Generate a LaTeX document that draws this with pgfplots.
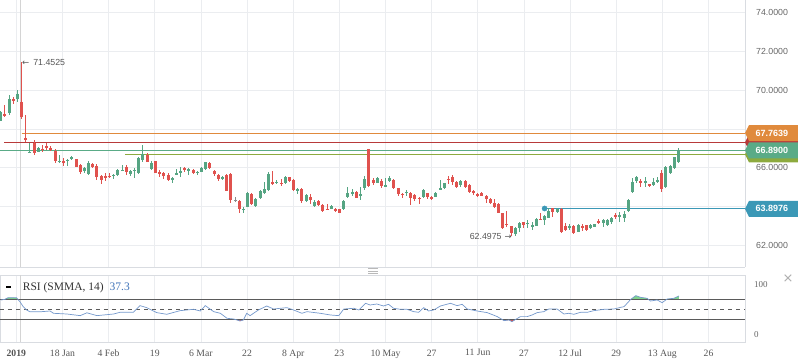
\documentclass[border=0pt]{standalone}
\usepackage{fontspec}
\setmainfont{Liberation Serif}
\newfontfamily\sansf{Liberation Sans}
\newfontfamily\dejavu{DejaVu Sans}
\usepackage{pgfplots}
\pgfplotsset{compat=1.18}
\usepackage{pgfplotstable}

\definecolor{cgreen}{HTML}{56A583}
\definecolor{cred}{HTML}{E0524E}
\definecolor{cgray}{HTML}{8A8A8A}
\definecolor{lorange}{HTML}{E08A3C}
\definecolor{lred}{HTML}{B83A3A}
\definecolor{lgreen}{HTML}{5AAB87}
\definecolor{lolive}{HTML}{8DAA3E}
\definecolor{lblue}{HTML}{3B98B6}
\definecolor{gridc}{HTML}{EBEDF0}
\definecolor{framec}{HTML}{D9DCE1}
\definecolor{crossc}{HTML}{D4D4D4}
\definecolor{rsiline}{HTML}{7599CC}
\definecolor{rsigreen}{HTML}{7FD38D}
\definecolor{rsired}{HTML}{D05050}
\definecolor{tickc}{HTML}{666666}
\definecolor{xlabc}{HTML}{555555}
\definecolor{levc}{HTML}{5A5A5A}
\definecolor{rsitext}{HTML}{3F73B8}

\pgfplotstableread{
i o h l c
0 68.43 68.95 68.40 68.85
1 68.77 69.24 68.64 68.67
2 68.81 69.75 68.72 69.55
3 69.52 69.67 69.29 69.47
4 69.55 70.01 69.41 69.79
5 69.41 71.4525 68.52 68.60
6 67.55 68.72 67.35 67.45
7 66.78 67.29 66.74 66.83
8 67.29 67.43 66.66 66.78
9 66.83 67.05 66.80 67.00
10 66.97 67.17 66.83 66.92
11 67.10 67.29 66.92 67.05
12 67.00 67.14 66.88 66.92
13 66.88 66.97 66.26 66.37
14 66.30 66.66 66.26 66.35
15 66.37 66.49 66.11 66.23
16 66.35 66.43 66.11 66.40
17 66.43 66.61 66.40 66.54
18 66.45 66.47 66.04 66.06
19 66.14 66.17 65.68 65.80
20 65.85 66.06 65.71 65.97
21 65.66 66.37 65.63 66.26
22 66.19 66.26 65.97 66.02
23 66.11 66.19 65.37 65.51
24 65.57 65.63 65.16 65.37
25 65.57 65.71 65.33 65.49
26 65.59 65.71 65.47 65.54
27 65.57 65.68 65.44 65.63
28 65.64 65.92 65.59 65.88
29 65.85 66.14 65.83 65.88
30 66.06 66.14 65.63 65.80
31 65.66 65.88 65.59 65.83
32 65.85 65.97 65.49 65.90
33 65.71 66.57 65.68 66.52
34 66.40 67.17 66.28 66.71
35 66.64 66.74 66.28 66.31
36 65.92 66.35 65.88 66.24
37 66.33 66.37 65.71 65.75
38 65.80 65.88 65.51 65.66
39 65.71 65.80 65.40 65.59
40 65.63 65.71 65.33 65.37
41 65.37 65.54 65.20 65.49
42 65.68 65.94 65.63 65.71
43 65.78 66.06 65.54 65.83
44 65.97 66.06 65.80 65.92
45 65.85 65.97 65.63 65.92
46 65.88 65.92 65.68 65.75
47 65.71 65.83 65.64 65.80
48 65.80 66.06 65.76 65.97
49 65.92 66.31 65.88 66.28
50 66.26 66.28 65.94 65.97
51 65.83 65.88 65.59 65.68
52 65.63 65.66 65.33 65.40
53 65.45 65.57 65.35 65.54
54 65.63 65.66 64.80 64.82
55 65.68 65.71 64.16 64.33
56 64.33 64.51 64.25 64.33
57 64.28 64.33 63.65 63.87
58 63.83 63.96 63.65 63.87
59 63.99 64.77 63.96 64.68
60 64.63 64.68 64.08 64.11
61 64.04 64.42 63.99 64.39
62 64.42 64.85 64.37 64.80
63 64.68 65.28 64.65 64.90
64 64.85 65.80 64.82 65.68
65 65.28 65.83 65.11 65.16
66 65.20 65.37 65.16 65.28
67 65.23 65.42 65.08 65.19
68 65.20 65.57 65.16 65.50
69 65.50 65.54 65.28 65.33
70 65.37 65.40 64.82 64.85
71 64.85 64.94 64.64 64.89
72 64.89 64.94 64.20 64.28
73 64.28 64.63 64.25 64.59
74 64.47 64.65 64.13 64.33
75 64.04 64.33 63.99 64.25
76 64.30 64.33 64.04 64.08
77 64.08 64.11 63.73 63.78
78 63.87 64.11 63.82 63.83
79 63.87 64.08 63.85 64.03
80 63.87 63.94 63.73 63.82
81 63.85 63.87 63.66 63.68
82 63.87 64.33 63.82 64.28
83 64.47 65.02 64.42 64.68
84 64.70 64.90 64.56 64.73
85 64.77 64.80 64.44 64.46
86 64.58 65.02 64.33 64.62
87 64.94 65.57 64.85 65.42
88 66.95 66.97 65.00 65.06
89 65.37 65.45 65.12 65.19
90 65.23 65.50 65.20 65.45
91 65.33 65.40 64.94 65.07
92 65.04 65.45 65.02 65.08
93 65.33 65.57 65.28 65.49
94 65.37 65.42 64.89 64.94
95 64.94 64.97 64.56 64.64
96 64.66 64.68 64.42 64.62
97 64.68 64.85 64.54 64.77
98 64.71 64.77 64.08 64.42
99 64.57 64.63 64.30 64.38
100 64.43 64.47 64.13 64.40
101 64.47 64.89 64.42 64.85
102 64.68 64.71 64.39 64.47
103 64.48 64.54 64.33 64.45
104 64.51 64.76 64.47 64.71
105 64.87 65.37 64.85 64.97
106 64.94 65.23 64.89 65.19
107 65.42 65.57 65.14 65.38
108 65.54 65.62 65.11 65.28
109 65.28 65.31 64.97 65.02
110 65.11 65.37 65.02 65.33
111 65.33 65.37 64.97 65.02
112 65.11 65.16 64.71 64.77
113 64.78 64.85 64.59 64.75
114 64.63 64.68 64.51 64.54
115 64.71 64.74 64.54 64.56
116 64.54 64.59 64.20 64.37
117 64.37 64.42 64.13 64.20
118 64.20 64.37 63.94 63.99
119 64.13 64.16 63.64 63.68
120 63.65 63.68 62.82 62.87
121 63.10 63.77 62.96 63.05
122 62.99 63.02 62.4975 62.61
123 62.58 62.96 62.50 62.90
124 62.87 63.22 62.70 63.13
125 63.18 63.22 62.87 63.04
126 63.10 63.30 62.87 63.15
127 63.00 63.22 62.79 63.03
128 63.01 63.40 62.97 63.35
129 63.38 63.65 63.30 63.33
130 63.30 63.56 63.04 63.53
131 63.42 63.90 63.39 63.77
132 63.90 63.94 63.47 63.73
133 63.73 63.94 63.65 63.87
134 63.85 63.90 62.65 62.70
135 63.01 63.13 62.73 62.79
136 62.93 63.08 62.79 62.96
137 63.01 63.04 62.58 62.61
138 62.70 63.08 62.67 63.04
139 62.97 63.08 62.73 62.93
140 63.04 63.06 62.75 62.79
141 62.87 63.08 62.84 63.04
142 62.96 63.12 62.93 63.08
143 63.23 63.34 63.08 63.20
144 63.13 63.34 62.96 63.30
145 63.04 63.34 63.01 63.30
146 63.18 63.47 63.10 63.42
147 63.56 63.65 63.35 63.44
148 63.47 63.73 63.22 63.56
149 63.39 63.78 63.22 63.61
150 63.78 64.39 63.73 64.33
151 64.73 65.45 64.68 65.28
152 65.33 65.57 65.20 65.54
153 65.30 65.40 65.02 65.26
154 65.20 65.54 65.02 65.32
155 65.16 65.18 65.03 65.06
156 65.11 65.45 65.06 65.28
157 65.28 65.54 65.20 65.37
158 65.71 65.88 64.77 64.88
159 65.02 66.09 64.97 66.02
160 65.71 66.14 65.68 66.09
161 65.97 66.57 65.92 66.54
162 66.31 67.04 66.26 66.89
}\candles

\pgfplotstableread{
i r
0 68.6
1.0 70
1.8 73.3
3.8 73
4.6 65
5.4 55
6.2 48.6
7.0 45
9.4 45
11.8 46.6
12.6 42
15.8 40.6
19.0 37.3
20.6 43
23.0 37.3
27.0 40.6
28.5 44
31.7 44
33.3 57.3
34.9 53.3
37.3 43.3
39.7 40
42.9 47.3
46.1 50
47.7 46.6
48.9 57.3
50.9 45.3
52.5 42
54.1 32
55.7 30.6
57.2 26.6
58.0 28.6
58.8 42
59.6 37.3
61.6 48.6
63.6 56.6
65.2 50.6
68.4 53.3
70.0 48.6
72.0 42
73.2 45.3
76.4 42
78.8 38.6
80.8 37.3
82.0 50.6
84.4 52
85.6 48.6
87.2 62
88.3 58.6
89.9 60.6
91.5 56.6
92.7 60
93.9 52
95.5 50
97.1 50
98.7 45.3
99.9 44
101.1 53.3
102.3 46.6
103.5 48.6
105.1 56.6
107.5 62
109.1 57.3
110.3 60
111.5 50.6
113.9 46.6
116.3 43.3
118.7 35.3
120.3 27.3
121.5 28.6
122.2 25.3
124.2 35.3
125.8 35.3
127.0 38.6
128.2 43.3
129.8 45.3
131.0 50.6
133.0 50.6
134.6 40.6
135.8 42
137.0 40
138.6 44
140.2 44
141.8 47.3
144.2 50
146.6 50.6
148.2 54
149.0 55.3
150.6 70
151.8 77.3
152.9 74
154.5 72
155.3 66.6
156.9 68.6
158.1 63.3
159.3 70.6
160.9 72
162.1 76.6
}\rsi

\pgfplotsset{
  xgridticks/.style={xtick={3.73,14.76,25.79,36.82,47.85,58.88,69.91,80.94,91.97,103.00,114.03,125.06,136.09,147.12,158.15,169.18}},
  wick/.style={draw=none, mark=none, forget plot,
    error bars/y dir=both, error bars/y explicit, error bars/error mark=none,
    error bars/error bar style={draw=#1, line width=1pt, solid}},
  body/.style={draw=none, mark=none, forget plot,
    error bars/y dir=both, error bars/y explicit, error bars/error mark=none,
    error bars/error bar style={draw=#1, line width=3pt, solid}},
}
\newcommand{\ticksize}{\fontsize{9.7}{11}\selectfont}
\newcommand{\pricesize}{\sansf\fontsize{8.8}{10}\selectfont}
\newcommand{\pbox}[2]{\fill[#1] (axis cs:177.9,#2) -- ++(4pt,8pt) -- ++(49pt,0pt) -- ++(0pt,-16pt) -- ++(-49pt,0pt) -- cycle;}

\begin{document}
\begin{tikzpicture}
\useasboundingbox (0pt,0pt) rectangle (798pt,363pt);

% ---------------- main price panel ----------------
\begin{axis}[
  at={(0pt,96pt)}, anchor=south west, scale only axis,
  width=745pt, height=267pt,
  xmin=-0.17, xmax=177.9, ymin=60.88, ymax=74.65,
  clip=false,
  axis x line*=bottom, axis y line*=right,
  axis line style={framec, line width=0.8pt},
  xgridticks, xticklabels={},
  ytick={62,64,66,68,70,72,74},
  yticklabels={62.0000,{},66.0000,{},70.0000,72.0000,74.0000},
  grid=major, major grid style={gridc, line width=0.8pt},
  major tick length=0pt,
  yticklabel style={anchor=west, inner sep=0pt, xshift=11pt, font=\pricesize, text=tickc},
]
% crosshair
\draw[crossc, line width=1.3pt] (axis cs:4.78,60.88) -- (axis cs:4.78,74.65);

% level lines
\addplot[lgreen, line width=1pt, forget plot] coordinates {(-0.17,66.89) (177.9,66.89)};
\addplot[lolive, line width=1pt, forget plot] coordinates {(29.7,66.69) (177.9,66.69)};
\addplot[lred, line width=1pt, forget plot] coordinates {(0.8,67.31) (177.9,67.31)};
\addplot[lorange, line width=1pt, forget plot] coordinates {(5,67.7639) (177.9,67.7639)};
\addplot[lblue, line width=1pt, forget plot] coordinates {(130,63.8976) (177.9,63.8976)};

% candles: wicks
\addplot[wick=cgreen, restrict expr to domain={\thisrow{c}-\thisrow{o}}{0.001:100}]
  table[x=i, y expr={(\thisrow{h}+\thisrow{l})/2}, y error expr={(\thisrow{h}-\thisrow{l})/2}] {\candles};
\addplot[wick=cred, restrict expr to domain={\thisrow{c}-\thisrow{o}}{-100:-0.001}]
  table[x=i, y expr={(\thisrow{h}+\thisrow{l})/2}, y error expr={(\thisrow{h}-\thisrow{l})/2}] {\candles};
\addplot[wick=cgray, restrict expr to domain={\thisrow{c}-\thisrow{o}}{-0.0005:0.0005}]
  table[x=i, y expr={(\thisrow{h}+\thisrow{l})/2}, y error expr={(\thisrow{h}-\thisrow{l})/2}] {\candles};
% candles: bodies
\addplot[body=cgreen, restrict expr to domain={\thisrow{c}-\thisrow{o}}{0.001:100}]
  table[x=i, y expr={(\thisrow{o}+\thisrow{c})/2}, y error expr={max(abs(\thisrow{o}-\thisrow{c})/2,0.025)}] {\candles};
\addplot[body=cred, restrict expr to domain={\thisrow{c}-\thisrow{o}}{-100:-0.001}]
  table[x=i, y expr={(\thisrow{o}+\thisrow{c})/2}, y error expr={max(abs(\thisrow{o}-\thisrow{c})/2,0.025)}] {\candles};
\addplot[body=cgray, restrict expr to domain={\thisrow{c}-\thisrow{o}}{-0.0005:0.0005}]
  table[x=i, y expr={(\thisrow{o}+\thisrow{c})/2}, y error expr={max(abs(\thisrow{o}-\thisrow{c})/2,0.025)}] {\candles};

% blue dot
\addplot[only marks, mark=*, mark size=2.6pt, color=lblue, forget plot] coordinates {(130,63.8976)};

% annotations
\node[anchor=west, inner sep=0pt, text=xlabc, font=\pricesize] at (axis cs:5.09,71.4525)
  {{\dejavu\fontsize{8.5}{10}\selectfont ←}\hspace{4pt}71.4525};
\node[anchor=east, inner sep=0pt, text=xlabc, font=\pricesize] at (axis cs:122.2,62.48)
  {62.4975\hspace{3pt}{\dejavu\fontsize{8.5}{10}\selectfont →}};

% price boxes
\pbox{lred}{67.31}
\pbox{lolive}{66.69}
\pbox{lgreen}{66.89}
\pbox{lorange}{67.79}
\pbox{lblue}{63.88}
\node[anchor=west, inner sep=0pt, text=white, font=\sansf\fontsize{9}{10}\selectfont\bfseries] at ([xshift=10.5pt]axis cs:177.9,67.79) {67.7639};
\node[anchor=west, inner sep=0pt, text=white, font=\sansf\fontsize{9}{10}\selectfont\bfseries] at ([xshift=10.5pt]axis cs:177.9,66.89) {66.8900};
\node[anchor=west, inner sep=0pt, text=white, font=\sansf\fontsize{9}{10}\selectfont\bfseries] at ([xshift=10.5pt]axis cs:177.9,63.88) {63.8976};
\end{axis}

% ---------------- RSI panel ----------------
\begin{axis}[
  at={(0pt,21pt)}, anchor=south west, scale only axis,
  width=745pt, height=67pt,
  xmin=-0.17, xmax=177.9, ymin=-15.4, ymax=118.6,
  axis line style={framec, line width=0.8pt},
  xgridticks,
  xticklabels={\textbf{2019},18 Jan,4 Feb,19,6 Mar,22,8 Apr,23,10 May,27,11 Jun,27,12 Jul,29,13 Aug,26},
  xmajorgrids, major grid style={gridc, line width=0.8pt},
  ytick={0,100}, yticklabels={0,100}, yticklabel pos=right,
  major tick length=0pt,
  xticklabel style={anchor=north, inner sep=0pt, yshift=-7.4pt, font=\ticksize, text=xlabc},
  yticklabel style={anchor=west, inner sep=0pt, xshift=9pt, font=\fontsize{9}{10}\selectfont, text=tickc},
]
\draw[crossc, line width=1.3pt] (axis cs:4.78,-15.4) -- (axis cs:4.78,118.6);
\begin{scope}
\clip (axis cs:-0.17,70) rectangle (axis cs:177.9,118.6);
\addplot[fill=rsigreen, draw=none, forget plot] table[x=i, y=r] {\rsi} -- (axis cs:162.1,0) -- (axis cs:0,0) -- cycle;
\end{scope}
\begin{scope}
\clip (axis cs:-0.17,-15.4) rectangle (axis cs:177.9,30);
\addplot[fill=rsired, draw=none, forget plot] table[x=i, y=r] {\rsi} -- (axis cs:162.1,110) -- (axis cs:0,110) -- cycle;
\end{scope}
\addplot[levc, line width=0.9pt, forget plot] coordinates {(-0.17,70) (177.9,70)};
\addplot[levc, line width=0.9pt, forget plot] coordinates {(-0.17,30) (177.9,30)};
\addplot[levc, line width=0.9pt, dash pattern=on 4pt off 4pt, forget plot] coordinates {(-0.17,50) (177.9,50)};
\addplot[rsiline, line width=0.7pt, forget plot] table[x=i, y=r] {\rsi};
\end{axis}

% RSI legend
\draw[black, line width=1.8pt] (6pt,75.6pt) -- (10.7pt,75.6pt);
\node[anchor=west, inner sep=0pt, font=\fontsize{11.5}{13}\selectfont, text=black!80] at (22.7pt,75.5pt)
  {RSI (SMMA, 14)\hspace{6pt}\textcolor{rsitext}{37.3}};

% panel handle and close mark
\draw[gray!55, line width=0.6pt] (368pt,94.5pt) -- (378pt,94.5pt) (368pt,92pt) -- (378pt,92pt) (368pt,89.5pt) -- (378pt,89.5pt);
\node[text=gray!65, font=\dejavu\fontsize{13}{13}\selectfont, inner sep=0pt] at (788pt,84pt) {×};
\end{tikzpicture}
\end{document}
